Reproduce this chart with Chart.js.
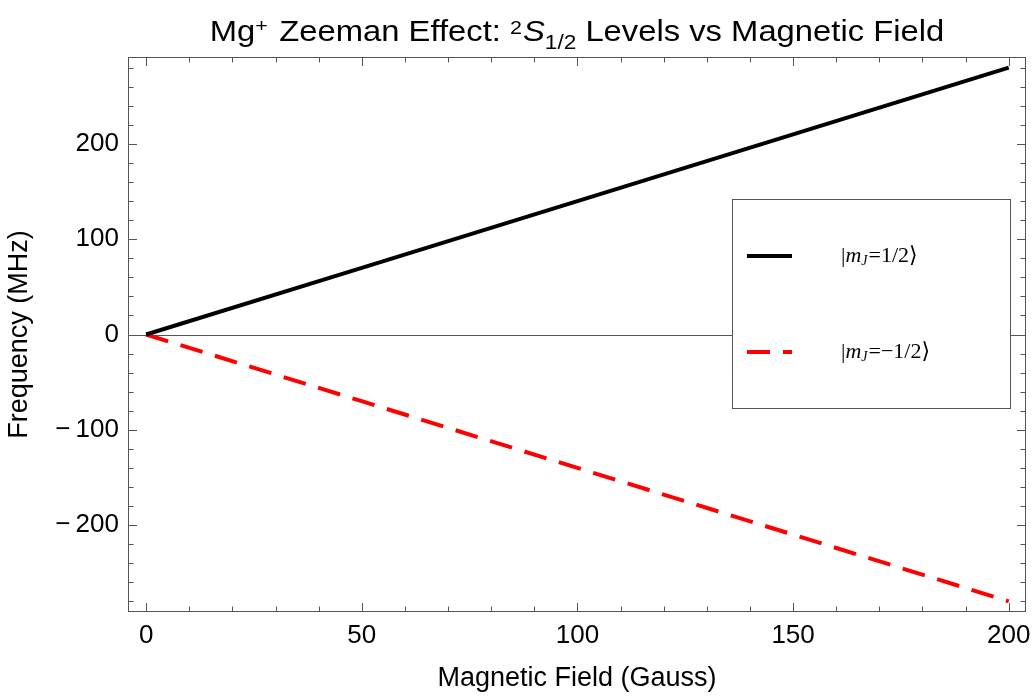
<!DOCTYPE html>
<html>
<head>
<meta charset="utf-8">
<title>Mg+ Zeeman Effect</title>
<script src="https://cdn.jsdelivr.net/npm/chart.js@4/dist/chart.umd.min.js"></script>
<style>
  html, body { margin: 0; padding: 0; background: #fff; }
  canvas { display: block; }
</style>
</head>
<body>
<canvas id="zeemanChart" width="1034" height="696"></canvas>
<script>
// Magnetic field (Gauss) and level shifts (MHz) of the 2S1/2 sublevels
const fieldGauss = [0, 50, 100, 150, 200];
const shiftPlusHalf = [0, 70, 140, 210, 280];
const shiftMinusHalf = [0, -70, -140, -210, -280];

// mJ values shown in the legend
const legendMj = ['1/2', '\u22121/2'];

// Axis ticks
const xTickValues = [0, 50, 100, 150, 200];
const yTickValues = [-200, -100, 0, 100, 200];
const xMinorStep = 10;
const yMinorStep = 20;

const SANS = '"Liberation Sans", Arial, sans-serif';
const SERIF = '"Liberation Serif", "Times New Roman", "DejaVu Serif", serif';
const FRAME_COLOR = '#555555';

/**
 * Draw a run of text pieces (super/subscripts, italics) starting at x.
 * Returns the total width.
 */
function drawRichText(ctx, parts, x, y, measureOnly) {
    let cx = x;
    parts.forEach(p => {
        ctx.font = (p.italic ? 'italic ' : '') + p.size + 'px ' + (p.family || SANS);
        if (!measureOnly) {
            ctx.fillText(p.text, cx, y + (p.dy || 0));
        }
        cx += ctx.measureText(p.text).width + (p.gap || 0);
    });
    return cx - x;
}

const mmaFramePlugin = {
    id: 'mmaFrame',

    // thin horizontal axis at zero, under the curves
    beforeDatasetsDraw(chart) {
        const { ctx, chartArea } = chart;
        const y0 = Math.round(chart.scales.y.getPixelForValue(0)) + 0.5;
        ctx.save();
        ctx.strokeStyle = FRAME_COLOR;
        ctx.lineWidth = 1;
        ctx.beginPath();
        ctx.moveTo(chartArea.left, y0);
        ctx.lineTo(chartArea.right, y0);
        ctx.stroke();
        ctx.restore();
    },

    afterDatasetsDraw(chart) {
        const { ctx, chartArea } = chart;
        const xs = chart.scales.x;
        const ys = chart.scales.y;
        const { left, right, top, bottom } = chartArea;

        ctx.save();
        ctx.strokeStyle = FRAME_COLOR;
        ctx.lineWidth = 1;
        ctx.strokeRect(left + 0.5, top + 0.5, right - left - 1, bottom - top - 1);

        // inward ticks on all four sides
        ctx.beginPath();
        for (let v = 0; v <= 200; v += xMinorStep) {
            const len = xTickValues.includes(v) ? 9 : 5.5;
            const px = Math.round(xs.getPixelForValue(v)) + 0.5;
            ctx.moveTo(px, bottom);
            ctx.lineTo(px, bottom - len);
            ctx.moveTo(px, top);
            ctx.lineTo(px, top + len);
        }
        for (let v = -280; v <= 280; v += yMinorStep) {
            const len = yTickValues.includes(v) ? 9 : 5.5;
            const py = Math.round(ys.getPixelForValue(v)) + 0.5;
            ctx.moveTo(left, py);
            ctx.lineTo(left + len, py);
            ctx.moveTo(right, py);
            ctx.lineTo(right - len, py);
        }
        ctx.stroke();

        // legend box
        const bx = right - 294;
        const by = top + 142;
        const bw = 278;
        const bh = 209;
        ctx.fillStyle = '#ffffff';
        ctx.fillRect(bx, by, bw, bh);
        ctx.strokeStyle = FRAME_COLOR;
        ctx.strokeRect(bx + 0.5, by + 0.5, bw, bh);

        const rowY = [by + 57, by + 153];
        chart.data.datasets.forEach((ds, i) => {
            ctx.strokeStyle = ds.borderColor;
            ctx.lineWidth = ds.borderWidth;
            ctx.setLineDash(ds.borderDash || []);
            ctx.beginPath();
            ctx.moveTo(bx + 15, rowY[i]);
            ctx.lineTo(bx + 60, rowY[i]);
            ctx.stroke();
            ctx.setLineDash([]);

            ctx.fillStyle = '#000000';
            ctx.textAlign = 'left';
            ctx.textBaseline = 'alphabetic';
            drawRichText(ctx, [
                { text: '|', size: 22, family: SERIF },
                { text: 'm', size: 22, family: SERIF, italic: true },
                { text: 'J', size: 14, family: SERIF, italic: true, dy: 3, gap: 1 },
                { text: '=' + ds.label + '\u27E9', size: 22, family: SERIF }
            ], bx + 109, rowY[i] + 6);
        });
        ctx.restore();
    },

    // title with superscripts and subscript, slightly widened like the original
    afterDraw(chart) {
        const { ctx, chartArea } = chart;
        const stretch = 1.13;
        const parts = [
            { text: 'Mg', size: 29 },
            { text: '+', size: 19, dy: -9, gap: 2 },
            { text: ' Zeeman Effect: ', size: 29 },
            { text: '2', size: 19, dy: -7, gap: 1 },
            { text: 'S', size: 29, italic: true },
            { text: '1/2', size: 20, dy: 8 },
            { text: ' Levels vs Magnetic Field', size: 29 }
        ];
        ctx.save();
        ctx.fillStyle = '#000000';
        ctx.textAlign = 'left';
        ctx.textBaseline = 'alphabetic';
        const w = drawRichText(ctx, parts, 0, 0, true);
        const cx = (chartArea.left + chartArea.right) / 2;
        ctx.translate(cx - w * stretch / 2, 41);
        ctx.scale(stretch, 1);
        drawRichText(ctx, parts, 0, 0, false);
        ctx.restore();
    }
};

function formatTick(value) {
    return value < 0 ? '\u2212\u2009' + Math.abs(value) : String(value);
}

const tickFont = { family: SANS, size: 26 };
const titleFont = { family: SANS, size: 27 };

new Chart(document.getElementById('zeemanChart'), {
    type: 'scatter',
    data: {
        datasets: [
            {
                label: legendMj[0],
                data: fieldGauss.map((x, i) => ({ x: x, y: shiftPlusHalf[i] })),
                showLine: true,
                borderColor: '#000000',
                borderWidth: 4,
                pointRadius: 0,
                fill: false
            },
            {
                label: legendMj[1],
                data: fieldGauss.map((x, i) => ({ x: x, y: shiftMinusHalf[i] })),
                showLine: true,
                borderColor: '#ff0000',
                borderWidth: 4,
                borderDash: [23, 13],
                pointRadius: 0,
                fill: false
            }
        ]
    },
    options: {
        responsive: false,
        animation: false,
        layout: { padding: { top: 57, right: 8, left: 0, bottom: 0 } },
        plugins: {
            legend: { display: false },
            title: { display: false },
            tooltip: { enabled: false }
        },
        scales: {
            x: {
                type: 'linear',
                min: -4.2,
                max: 204,
                grid: { display: false, drawTicks: false },
                border: { display: false },
                afterBuildTicks: scale => {
                    scale.ticks = xTickValues.map(v => ({ value: v }));
                },
                afterFit: scale => {
                    scale.height = 84;
                    scale.paddingLeft = 0;
                    scale.paddingRight = 0;
                },
                ticks: {
                    font: tickFont,
                    color: '#000000',
                    padding: 8,
                    autoSkip: false,
                    maxRotation: 0,
                    callback: formatTick
                },
                title: {
                    display: true,
                    text: 'Magnetic Field (Gauss)',
                    font: titleFont,
                    color: '#000000',
                    padding: { top: 0, bottom: 1 }
                }
            },
            y: {
                type: 'linear',
                min: -291.2,
                max: 291.2,
                grid: { display: false, drawTicks: false },
                border: { display: false },
                afterBuildTicks: scale => {
                    scale.ticks = yTickValues.map(v => ({ value: v }));
                },
                afterFit: scale => {
                    scale.width = 128;
                    scale.paddingTop = 0;
                    scale.paddingBottom = 0;
                },
                ticks: {
                    font: tickFont,
                    color: '#000000',
                    padding: 9,
                    autoSkip: false,
                    callback: formatTick
                },
                title: {
                    display: true,
                    text: 'Frequency (MHz)',
                    font: titleFont,
                    color: '#000000',
                    padding: { top: 3, bottom: 0 }
                }
            }
        }
    },
    plugins: [mmaFramePlugin]
});
</script>
</body>
</html>
